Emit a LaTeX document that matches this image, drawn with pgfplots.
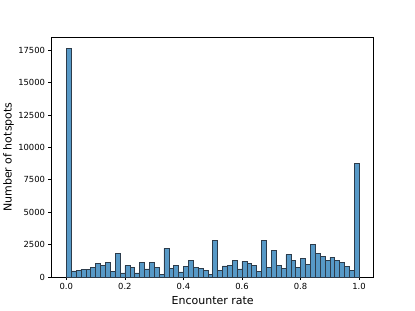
\documentclass[border=0pt]{standalone}
\usepackage{fontspec}
\setmainfont{DejaVu Sans}
\usepackage{pgfplots}
\pgfplotsset{compat=1.18}
\definecolor{barfill}{RGB}{87,153,199}
\definecolor{baredge}{RGB}{45,60,75}
\begin{document}
\begin{tikzpicture}
\begin{axis}[
  scale only axis, width=322bp, height=239.7bp,
  xmin=-0.05, xmax=1.05, ymin=0, ymax=18501,
  axis line style={black, line width=0.7bp},
  tick style={black, line width=0.7bp},
  tick align=outside, major tick length=3.2bp,
  xtick pos=bottom, ytick pos=left,
  xtick={0,0.2,0.4,0.6,0.8,1},
  ytick={0,2500,5000,7500,10000,12500,15000,17500},
  scaled y ticks=false,
  /pgf/number format/assume math mode=true,
  xticklabel style={/pgf/number format/fixed, /pgf/number format/fixed zerofill, /pgf/number format/precision=1},
  yticklabel style={/pgf/number format/fixed, /pgf/number format/1000 sep={}},
  ticklabel style={font=\fontsize{8.4bp}{10bp}\selectfont},
  label style={font=\fontsize{11bp}{13bp}\selectfont},
  xlabel={Encounter rate},
  ylabel={Number of hotspots},
  xlabel style={at={([yshift=-27bp]axis description cs:0.5,0)}, anchor=base, inner sep=0pt},
  ylabel style={at={([xshift=-37.5bp]axis description cs:0,0.5)}, anchor=south, rotate=0, inner sep=0pt},
]
\addplot[ybar interval, fill=barfill, draw=baredge, line width=0.5bp] coordinates {
(0,17620) (0.016667,480) (0.033333,500) (0.05,600) (0.066667,610)
(0.083333,720) (0.1,1040) (0.116667,875) (0.133333,1120) (0.15,440)
(0.166667,1810) (0.183333,310) (0.2,870) (0.216667,770) (0.233333,320)
(0.25,1130) (0.266667,620) (0.283333,1130) (0.3,770) (0.316667,210)
(0.333333,2210) (0.35,670) (0.366667,870) (0.383333,390) (0.4,820)
(0.416667,1310) (0.433333,770) (0.45,690) (0.466667,510) (0.483333,210)
(0.5,2850) (0.516667,510) (0.533333,850) (0.55,900) (0.566667,1310)
(0.583333,620) (0.6,1210) (0.616667,1080) (0.633333,870) (0.65,460)
(0.666667,2850) (0.683333,745) (0.7,2060) (0.716667,870) (0.733333,670)
(0.75,1720) (0.766667,1290) (0.783333,745) (0.8,1460) (0.816667,980)
(0.833333,2490) (0.85,1820) (0.866667,1620) (0.883333,1290) (0.9,1510)
(0.916667,1290) (0.933333,1130) (0.95,820) (0.966667,510) (0.983333,8750)
(1.0,0)
};
\end{axis}
\path ([shift={(-51.7bp,-34bp)}]current axis.south west) rectangle ([shift={(41.3bp,37.3bp)}]current axis.north east);
\end{tikzpicture}
\end{document}
